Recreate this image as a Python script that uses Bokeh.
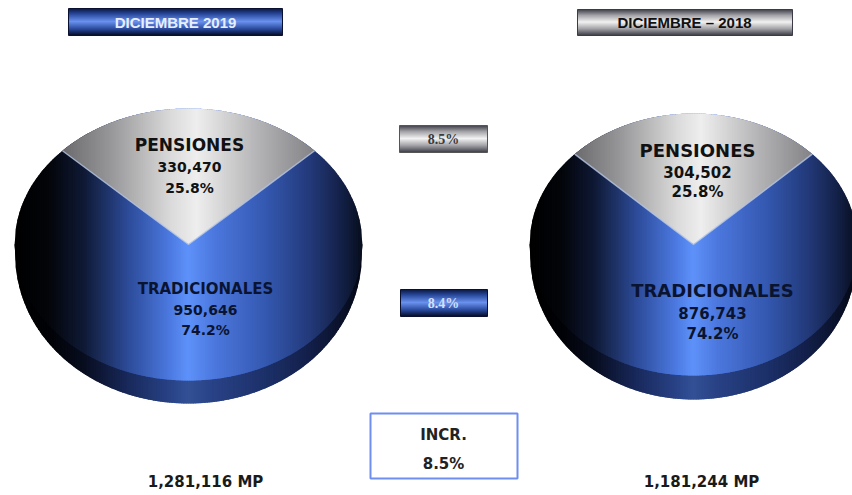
import numpy as np
from bokeh.plotting import figure
from bokeh.models import ColumnDataSource, Range1d
from bokeh.core.properties import value
from bokeh.embed import file_html
from bokeh.resources import INLINE

# ---------------- data ----------------
periods = ["DICIEMBRE 2019", "DICIEMBRE – 2018"]
categories = ["PENSIONES", "TRADICIONALES"]
values_2019 = [330470, 950646]
values_2018 = [304502, 876743]
totals = [1281116, 1181244]
growth = [8.5, 8.4]          # PENSIONES, TRADICIONALES
growth_total = 8.5
unit = "MP"
incr_label = "INCR."

# ---------------- styles ----------------
BLUE = [(-1.0, (0, 0, 0)), (-0.8, (3, 5, 10)), (-0.6, (15, 25, 52)), (-0.35, (44, 74, 150)),
        (-0.1, (76, 122, 226)), (0.0, (94, 146, 250)), (0.15, (76, 120, 222)), (0.45, (52, 88, 176)),
        (0.7, (35, 58, 122)), (0.9, (18, 30, 66)), (1.0, (8, 14, 30))]
SIDE = [(a, (int(c[0] * 0.55), int(c[1] * 0.55), int(c[2] * 0.6))) for a, c in BLUE]
GRAY = [(-0.8, (95, 95, 98)), (-0.45, (150, 150, 152)), (-0.1, (218, 218, 218)), (0.05, (238, 238, 238)),
        (0.4, (180, 180, 182)), (0.8, (120, 120, 124))]
HBLUE = [(0.0, (8, 18, 55)), (0.22, (40, 72, 155)), (0.5, (105, 145, 238)), (0.78, (40, 72, 155)), (1.0, (6, 14, 42))]
HGRAY = [(0.0, (55, 55, 65)), (0.25, (165, 165, 170)), (0.5, (242, 242, 242)), (0.75, (165, 165, 170)), (1.0, (65, 65, 75))]

W, H = 852, 495
p = figure(width=W, height=H, x_range=Range1d(0, W), y_range=Range1d(H, 0),
           output_backend="svg", toolbar_location=None, min_border=0,
           x_axis_location=None, y_axis_location=None)
p.grid.visible = False
p.outline_line_color = None
p.background_fill_color = "white"
p.border_fill_color = "white"


def grad(t, stops):
    t = np.atleast_1d(np.asarray(t, dtype=float))
    ts = [s[0] for s in stops]
    ch = [np.interp(t, ts, [s[1][k] for s in stops]) for k in range(3)]
    return ["#%02x%02x%02x" % (int(round(a)), int(round(b)), int(round(c))) for a, b, c in zip(*ch)]


def patches(xs, ys, colors):
    src = ColumnDataSource(dict(xs=xs, ys=ys, c=colors))
    p.patches("xs", "ys", source=src, fill_color="c", line_color=None)


def strips(x0, x1, n, top_fn, bot_fn, tfn, stops, ov=0.7):
    xs = np.linspace(x0, x1, n + 1)
    l = np.maximum(xs[:-1] - ov, x0)
    r = np.minimum(xs[1:] + ov, x1)
    px = [[a, b, b, a] for a, b in zip(l, r)]
    py = [[top_fn(a), top_fn(b), bot_fn(b), bot_fn(a)] for a, b in zip(l, r)]
    patches(px, py, grad(tfn((xs[:-1] + xs[1:]) / 2), stops))


def draw_pie(cx, cy, rx, ry, depth, vals, n=200):
    total = sum(vals)
    half = np.pi * vals[0] / total
    h = lambda x: ry * np.sqrt(max(0.0, 1 - ((x - cx) / rx) ** 2))
    tf = lambda x: (x - cx) / rx
    # side (3D thickness), thinning towards the extremes
    strips(cx - rx, cx + rx, n, lambda x: cy,
           lambda x: cy + h(x) + depth * np.sqrt(h(x) / ry), tf, SIDE)
    # top face (blue ellipse)
    strips(cx - rx, cx + rx, n, lambda x: cy - h(x), lambda x: cy + h(x), tf, BLUE)
    # gray wedge of the first category, centred at the top
    wx = rx * np.sin(half)
    k = (ry * np.cos(half)) / wx
    strips(cx - wx, cx + wx, 140, lambda x: cy - h(x), lambda x: cy - abs(x - cx) * k, tf, GRAY, ov=0.5)
    # light edges of the wedge
    p.line(x=[cx - wx, cx, cx + wx], y=[cy - ry * np.cos(half), cy, cy - ry * np.cos(half)],
           line_color="#b4c4e4", line_width=1.5, line_alpha=0.8)


def grad_box(x0, x1, y0, y1, stops, outline):
    n = int(round(y1 - y0))
    ys = np.linspace(y0, y1, n + 1)
    t = ((ys[:-1] + ys[1:]) / 2 - y0) / (y1 - y0)
    c = grad(t, stops)
    p.quad(left=x0, right=x1, top=np.maximum(ys[:-1] - 0.5, y0), bottom=np.minimum(ys[1:] + 0.5, y1),
           fill_color=c, line_color=None)
    p.quad(left=x0, right=x1, top=y0, bottom=y1, fill_color=None, line_color=outline, line_width=1)


def label(x, y, txt, size, color, font="DejaVu Sans", style="bold"):
    p.text(x=[x], y=[y], text=[txt], text_font=value(font), text_font_style=style,
           text_font_size=f"{size}px", text_color=color, text_align="center", text_baseline="middle")


# ---------------- pies ----------------
pies = [
    dict(vals=values_2019, cx=188, cy=244, rx=174, ry=136, depth=23,
         p_off=(1, -100, 17, 14, 21), t_off=(17, 44, 15, 14, 20)),
    dict(vals=values_2018, cx=693, cy=244, rx=164, ry=131, depth=24,
         p_off=(4, -94, 18, 15, 20), t_off=(19, 46, 18, 15, 21)),
]
for pie in pies:
    v = pie["vals"]
    tot = sum(v)
    draw_pie(pie["cx"], pie["cy"], pie["rx"], pie["ry"], pie["depth"], v)
    for i, (cat, off, col) in enumerate(zip(categories, [pie["p_off"], pie["t_off"]], ["#111111", "#0a1430"])):
        ox, oy, s1, s2, gap = off
        x = pie["cx"] + ox
        y = pie["cy"] + oy
        label(x, y, cat, s1, col)
        label(x, y + gap + 1, f"{v[i]:,}", s2, col)
        label(x, y + 2 * gap + 1, f"{100 * v[i] / tot:.1f}%", s2, col)

# totals
label(205, 481, f"{totals[0]:,} {unit}", 15, "#1a1a1a")
label(701, 481, f"{totals[1]:,} {unit}", 15, "#1a1a1a")

# ---------------- headers ----------------
grad_box(68, 282, 8, 35, HBLUE, "#0a1030")
label(175, 22, periods[0], 15, "#e6eeff", font="Liberation Sans")
grad_box(577, 792, 9, 35, HGRAY, "#3a3a48")
label(684, 22, periods[1], 15, "#111111", font="Liberation Sans")

# ---------------- growth boxes ----------------
grad_box(399, 487, 125, 152, HGRAY, "#555555")
label(443, 139, f"{growth[0]:.1f}%", 14, "#3a3a3a", font="Liberation Serif", style="bold")
grad_box(400, 487, 289, 316, HBLUE, "#0a1030")
label(443, 303, f"{growth[1]:.1f}%", 14, "#d2e0ff", font="Liberation Serif", style="bold")

p.quad(left=370, right=517, top=413, bottom=478, fill_color="white", line_color="#6f8ff0", line_width=2)
label(443, 434, incr_label, 15, "#222222")
label(443, 463, f"{growth_total:.1f}%", 15, "#222222")

open("out.html", "w").write(file_html(p, INLINE))
